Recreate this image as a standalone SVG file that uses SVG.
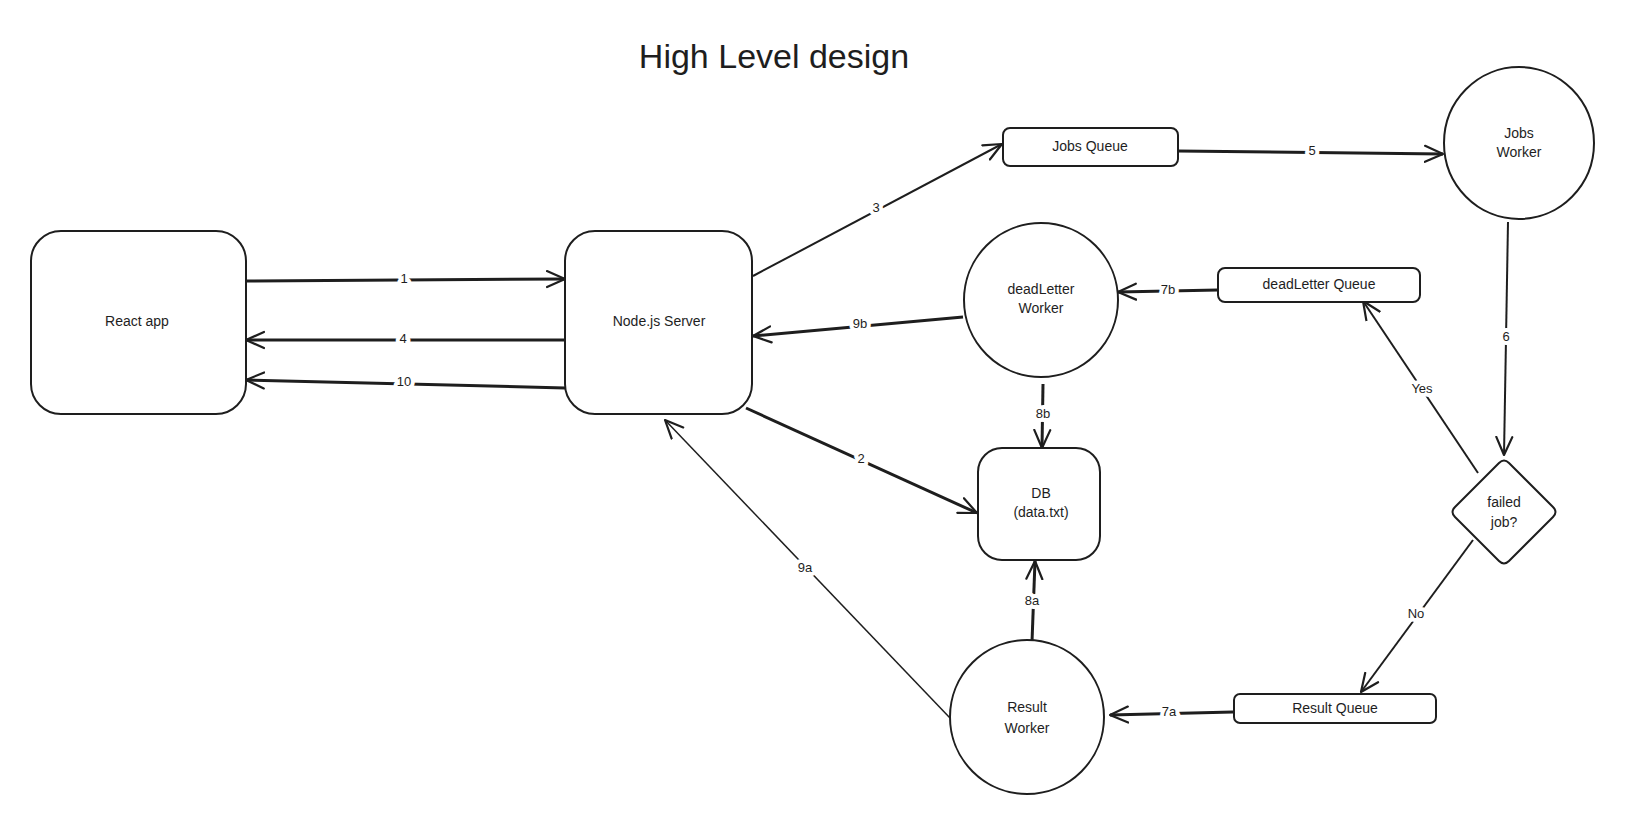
<svg xmlns="http://www.w3.org/2000/svg" width="1640" height="815" viewBox="0 0 1640 815">
<defs>
<style>
.shape{fill:#fff;stroke:#1e1e1e;stroke-width:2}
.t{font-family:"Liberation Sans","DejaVu Sans",sans-serif;font-size:14px;fill:#1e1e1e;text-anchor:middle;dominant-baseline:middle}
.lbl{font-family:"Liberation Sans","DejaVu Sans",sans-serif;font-size:13px;fill:#1e1e1e;text-anchor:middle;dominant-baseline:middle;paint-order:stroke;stroke:#fff;stroke-width:8px;stroke-linejoin:round}
.c{fill:none;stroke:#1e1e1e;stroke-width:2;marker-end:url(#ah)}
.thick{stroke-width:3}
.thin{stroke-width:1.5}
</style>
<marker id="ah" viewBox="0 0 20 20" refX="19" refY="10" markerWidth="20" markerHeight="20" markerUnits="userSpaceOnUse" orient="auto">
<path d="M1,2 L19,10 L1,18" fill="none" stroke="#1e1e1e" stroke-width="2.2" stroke-linecap="round" stroke-linejoin="round"/>
</marker>
</defs>
<rect width="1640" height="815" fill="#fff"/>
<text x="774" y="59" style="font-family:'Liberation Sans','DejaVu Sans',sans-serif;font-size:34px;fill:#1e1e1e;text-anchor:middle;dominant-baseline:middle">High Level design</text>

<g id="connectors">
<path class="c thick" d="M246,281 L565,279"/>
<path class="c thick" d="M565,340 L246,340"/>
<path class="c thick" d="M565,388 L246,380"/>
<path class="c" d="M753,276 L1002,144"/>
<path class="c thick" d="M1178,151 L1443,154"/>
<path class="c" d="M1508,222 L1504,455"/>
<path class="c" d="M1478,473 L1363,301"/>
<path class="c" d="M1473,540 L1361,692"/>
<path class="c thick" d="M1218,290 L1118,292"/>
<path class="c thick" d="M963,317 L753,336"/>
<path class="c thick" d="M1043,384 L1042,448"/>
<path class="c thick" d="M746,408 L977,513"/>
<path class="c thick" d="M1032,642 L1035,561"/>
<path class="c thick" d="M1233,712 L1110,715"/>
<path class="c thin" d="M950,718 L665,420"/>
<text class="lbl" x="404" y="280">1</text>
<text class="lbl" x="403" y="340">4</text>
<text class="lbl" x="404" y="383">10</text>
<text class="lbl" x="876" y="209">3</text>
<text class="lbl" x="1312" y="152">5</text>
<text class="lbl" x="1506" y="338">6</text>
<text class="lbl" x="1422" y="390">Yes</text>
<text class="lbl" x="1416" y="615">No</text>
<text class="lbl" x="1168" y="291">7b</text>
<text class="lbl" x="860" y="325">9b</text>
<text class="lbl" x="1043" y="415">8b</text>
<text class="lbl" x="861" y="460">2</text>
<text class="lbl" x="1032" y="602">8a</text>
<text class="lbl" x="1169" y="713">7a</text>
<text class="lbl" x="805" y="569">9a</text>
</g>

<g id="react-app">
<rect class="shape" x="31" y="231" width="215" height="183" rx="30"/>
<text class="t" x="137" y="322">React app</text>
</g>
<g id="node-server">
<rect class="shape" x="565" y="231" width="187" height="183" rx="30"/>
<text class="t" x="659" y="322">Node.js Server</text>
</g>
<g id="jobs-queue">
<rect class="shape" x="1003" y="128" width="175" height="38" rx="7"/>
<text class="t" x="1090" y="147">Jobs Queue</text>
</g>
<g id="jobs-worker">
<ellipse class="shape" cx="1519" cy="143" rx="75" ry="76"/>
<text class="t" x="1519" y="134">Jobs</text>
<text class="t" x="1519" y="153">Worker</text>
</g>
<g id="deadletter-worker">
<ellipse class="shape" cx="1041" cy="300" rx="77" ry="77"/>
<text class="t" x="1041" y="290">deadLetter</text>
<text class="t" x="1041" y="309">Worker</text>
</g>
<g id="deadletter-queue">
<rect class="shape" x="1218" y="268" width="202" height="34" rx="7"/>
<text class="t" x="1319" y="285">deadLetter Queue</text>
</g>
<g id="db">
<rect class="shape" x="978" y="448" width="122" height="112" rx="24"/>
<text class="t" x="1041" y="494">DB</text>
<text class="t" x="1041" y="513">(data.txt)</text>
</g>
<g id="failed-job">
<path class="shape" d="M1499,463 Q1504,458 1509,463 L1553,507 Q1558,512 1553,517 L1509,561 Q1504,566 1499,561 L1455,517 Q1450,512 1455,507 Z"/>
<text class="t" x="1504" y="503">failed</text>
<text class="t" x="1504" y="523">job?</text>
</g>
<g id="result-queue">
<rect class="shape" x="1234" y="694" width="202" height="29" rx="6"/>
<text class="t" x="1335" y="709">Result Queue</text>
</g>
<g id="result-worker">
<ellipse class="shape" cx="1027" cy="717" rx="77" ry="77"/>
<text class="t" x="1027" y="708">Result</text>
<text class="t" x="1027" y="729">Worker</text>
</g>
</svg>
